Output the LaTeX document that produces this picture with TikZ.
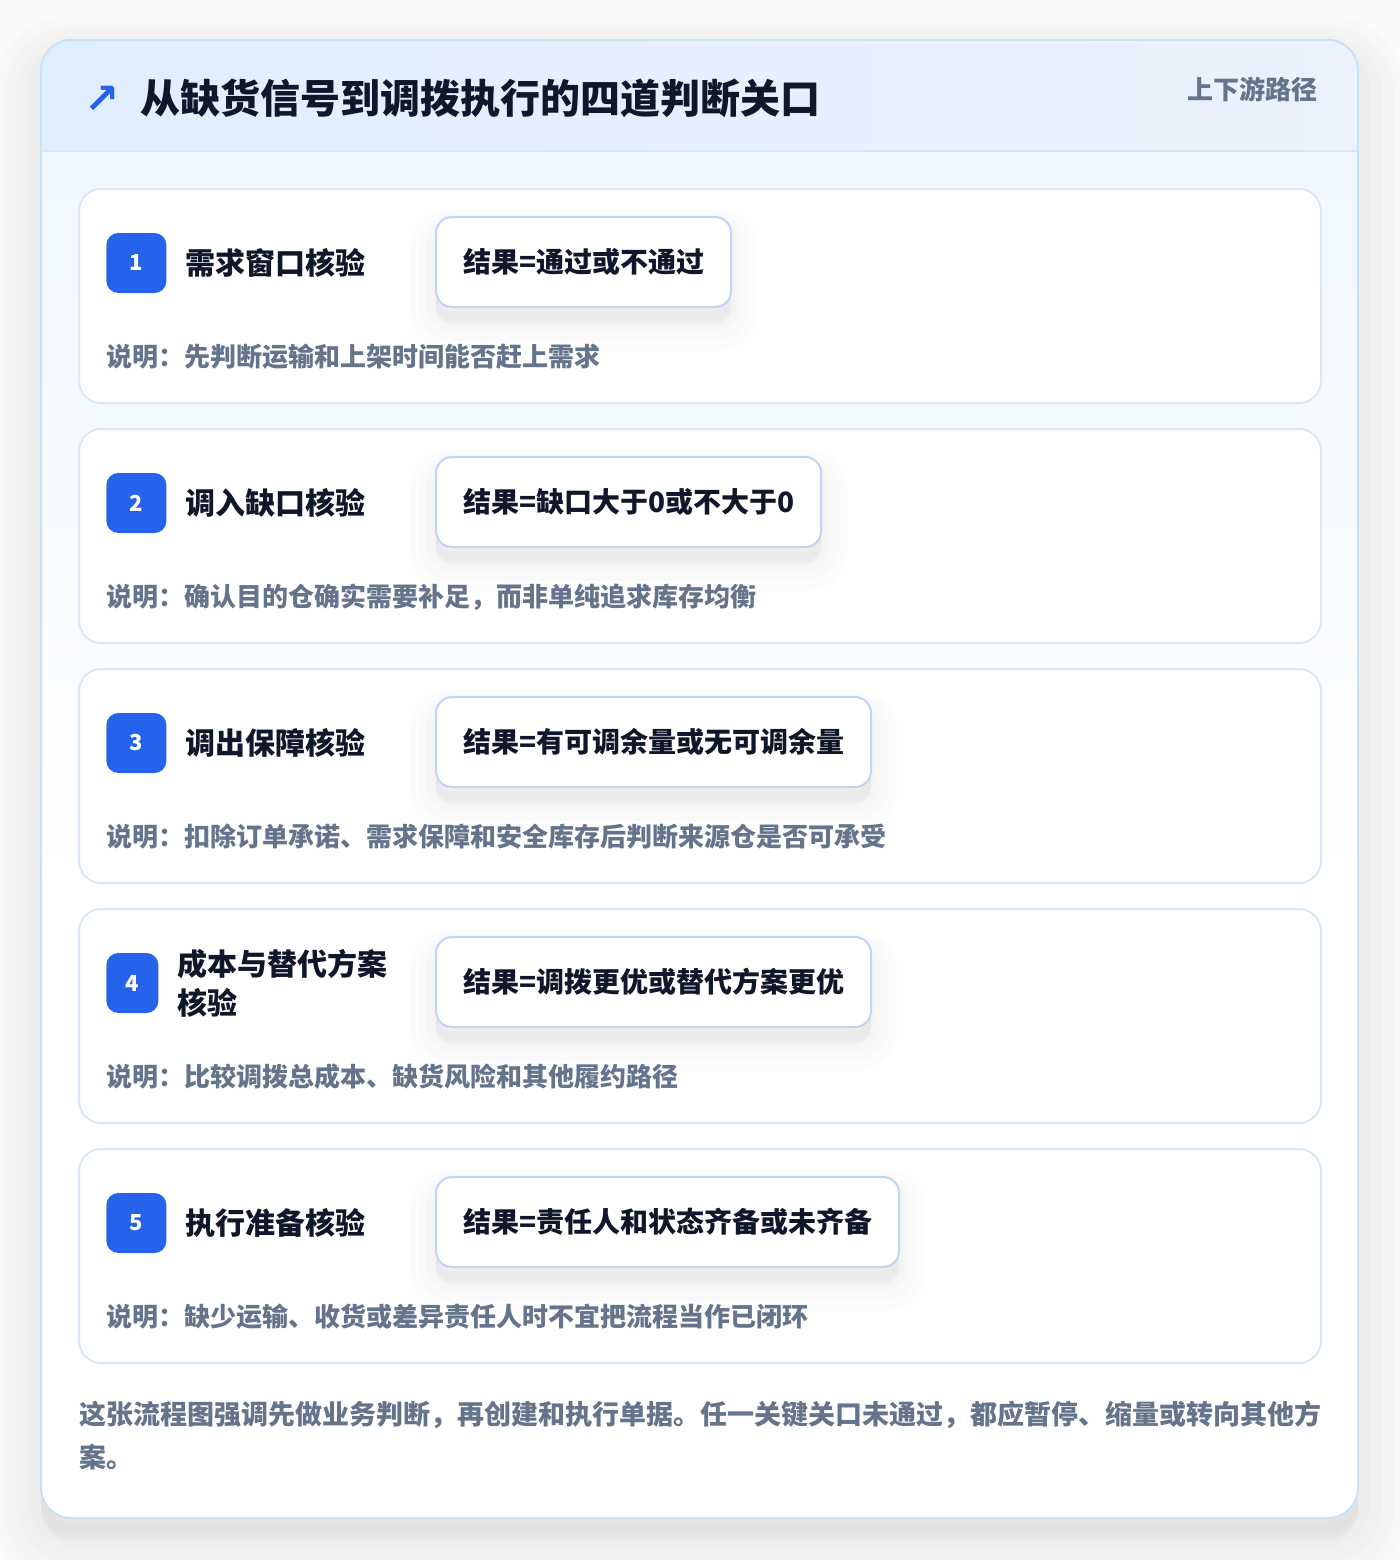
\documentclass[tikz,border=0pt]{standalone}
\usepackage{fontspec}
\usetikzlibrary{positioning}
\setmainfont{Noto Sans CJK SC}
\newfontfamily\symfont{DejaVu Sans}

\definecolor{pagebg}{HTML}{FAFAFB}
\definecolor{frame}{HTML}{C3E3F7}
\definecolor{hdrL}{HTML}{DFEEFE}
\definecolor{hdrR}{HTML}{EBF1FD}
\definecolor{hdrline}{HTML}{D5E6F8}
\definecolor{bodytop}{HTML}{F0F7FF}
\definecolor{ink}{HTML}{0F172A}
\definecolor{muted}{HTML}{64748B}
\definecolor{accent}{HTML}{2563EB}
\definecolor{cardline}{HTML}{DAE7F6}
\definecolor{resline}{HTML}{BED5F5}

\tikzset{
  soft/.style n args={3}{preaction={fill=black, draw=black, opacity=#3, line width=#1,
    transform canvas={yshift=#2}}},
  card/.style={draw=cardline, line width=1pt, fill=white, rounded corners=11pt},
  badge/.style={fill=accent, rounded corners=6pt, text=white, inner sep=0pt,
    minimum height=30pt, font=\bfseries\fontsize{11}{11}\selectfont},
  gate/.style={text=ink, align=left, inner sep=0pt,
    font=\bfseries\fontsize{15}{19.5}\selectfont},
  result/.style={draw=resline, line width=1pt, fill=white, rounded corners=8pt,
    minimum height=45pt, inner xsep=13.5pt, inner ysep=0pt, text=ink,
    font=\bfseries\fontsize{14}{14}\selectfont,
    soft={26pt}{-9pt}{0.01}, soft={18pt}{-8pt}{0.01}, soft={10pt}{-7pt}{0.01}, soft={4pt}{-6pt}{0.008}},
  note/.style={text=muted, inner sep=0pt, font=\bfseries\fontsize{13}{13}\selectfont}
}

\begin{document}
\begin{tikzpicture}[x=0.5pt,y=-0.5pt]
  \useasboundingbox (0,0) rectangle (1400,1560);
  \fill[pagebg] (0,0) rectangle (1400,1560);
  % Outer panel and its shadow
  \fill[white, rounded corners=15pt, soft={48pt}{-12pt}{0.012}, soft={36pt}{-11pt}{0.012},
    soft={24pt}{-10pt}{0.012}, soft={12pt}{-8pt}{0.012}]
    (41,40) rectangle (1358,1518);
  \begin{scope}
    \clip[rounded corners=15pt] (41,40) rectangle (1358,1518);
    \shade[top color=bodytop, bottom color=white] (41,151) rectangle (1358,900);
    \shade[left color=hdrL, right color=hdrR] (41,40) rectangle (1358,151);
    \draw[hdrline, line width=1pt] (41,151) -- (1358,151);
  \end{scope}
  \draw[frame, line width=1pt, rounded corners=15pt] (41,40) rectangle (1358,1518);

  % Header
  \node[anchor=west, inner sep=0pt, text=accent, font=\symfont\bfseries\fontsize{21}{21}\selectfont] (icon) at (84,100) {↗};
  \node[anchor=west, inner sep=0pt, text=ink, font=\bfseries\fontsize{20}{20}\selectfont] (heading) at (140,98) {从缺货信号到调拨执行的四道判断关口};
  \node[anchor=east, note] (tag) at (1318,89) {上下游路径};

  % Five gates
  \foreach \i/\bw/\ttl/\res/\txt [count=\k from 0, evaluate=\k as \top using 189+240*\k] in {
    1/30pt/{需求窗口核验}/{结果=通过或不通过}/{说明：先判断运输和上架时间能否赶上需求},
    2/30pt/{调入缺口核验}/{结果=缺口大于0或不大于0}/{说明：确认目的仓确实需要补足，而非单纯追求库存均衡},
    3/30pt/{调出保障核验}/{结果=有可调余量或无可调余量}/{说明：扣除订单承诺、需求保障和安全库存后判断来源仓是否可承受},
    4/26pt/{成本与替代方案\\核验}/{结果=调拨更优或替代方案更优}/{说明：比较调拨总成本、缺货风险和其他履约路径},
    5/30pt/{执行准备核验}/{结果=责任人和状态齐备或未齐备}/{说明：缺少运输、收货或差异责任人时不宜把流程当作已闭环}} {
    \draw[card] (79,\top) rectangle (1321,\top+214);
    \node[badge, minimum width=\bw, anchor=west] (badge\i) at (106,\top+74) {\i};
    \node[gate, right=9pt of badge\i] (gate\i) {\ttl};
    \node[result, anchor=west] (res\i) at (435,\top+73) {\res};
    \node[note, anchor=west] (note\i) at (106,\top+168) {\txt};
  }

  % Closing remark
  \node[note, anchor=north west, align=left, font=\bfseries\fontsize{13.5}{21.5}\selectfont] (summary) at (79,1401)
    {这张流程图强调先做业务判断，再创建和执行单据。任一关键关口未通过，都应暂停、缩量或转向其他方\\案。};
\end{tikzpicture}
\end{document}
